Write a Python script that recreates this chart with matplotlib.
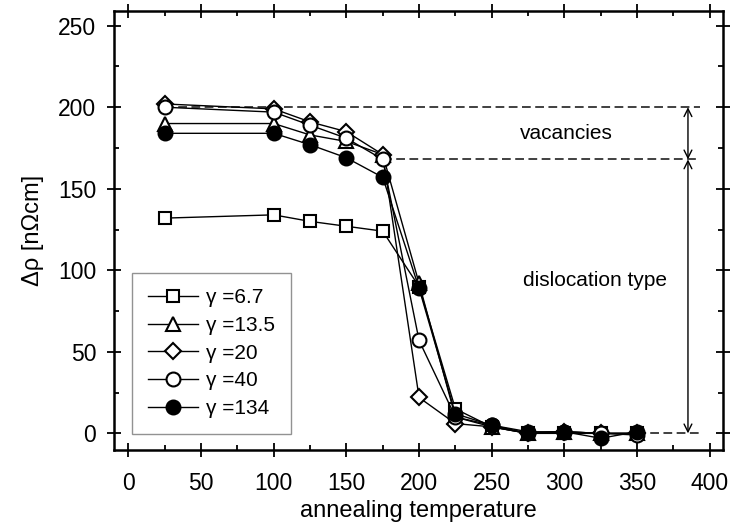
import matplotlib.pyplot as plt
from matplotlib.ticker import MultipleLocator

plt.rcParams["font.family"] = ["Liberation Sans", "DejaVu Sans"]

temps = [25, 100, 125, 150, 175, 200, 225, 250, 275, 300, 325, 350]

rho_6_7 = [132, 134, 130, 127, 124, 90, 15, 4, 0, 0, 0, 0]
rho_13_5 = [190, 190, 183, 179, 171, 92, 10, 4, 0, 1, 0, 0]
rho_20 = [202, 199, 191, 185, 171, 22, 6, 4, 0, 1, 0, 0]
rho_40 = [200, 197, 189, 181, 168, 57, 10, 5, 1, 1, 0, -1]
rho_134 = [184, 184, 177, 169, 157, 89, 12, 5, 0, 1, -3, 1]

labels = ["\u03b3 =6.7", "\u03b3 =13.5", "\u03b3 =20", "\u03b3 =40", "\u03b3 =134"]
markers = ["s", "^", "D", "o", "o"]
faces = ["white", "white", "white", "white", "black"]
sizes = [9, 10, 8, 10, 10]

# reference levels for the two recovery stages
level_total = 200
level_disloc = 168
level_zero = 0

fig = plt.figure(figsize=(7.32, 5.27), dpi=100)
ax = fig.add_axes([0.1557, 0.1461, 0.8316, 0.833])

# dashed guide lines
dash = dict(ls=(0, (4.5, 2.3)), color="#404040", lw=1.4, zorder=1)
ax.plot([25, 393], [level_total, level_total], **dash)
ax.plot([175, 393], [level_disloc, level_disloc], **dash)
ax.plot([350, 393], [level_zero, level_zero], **dash)

series = [rho_6_7, rho_13_5, rho_20, rho_40, rho_134]
for ys, lab, m, fc, ms in zip(series, labels, markers, faces, sizes):
    ax.plot(temps, ys, color="black", lw=1.0, marker=m, markersize=ms,
            markerfacecolor=fc, markeredgecolor="black", markeredgewidth=1.5,
            label=lab, zorder=3)

# double arrows for the two contributions
arrow = dict(arrowstyle="<->", color="black", lw=1.0, shrinkA=0, shrinkB=0,
             mutation_scale=14)
ax.annotate("", xy=(385, level_total), xytext=(385, level_disloc), arrowprops=arrow)
ax.annotate("", xy=(385, level_disloc), xytext=(385, level_zero), arrowprops=arrow)

ax.text(301, 184, "vacancies", ha="center", va="center", fontsize=15)
ax.text(321, 93.5, "dislocation type", ha="center", va="center", fontsize=15)

ax.set_xlim(-9.9, 408.9)
ax.set_ylim(-10.2, 259)
ax.xaxis.set_major_locator(MultipleLocator(50))
ax.xaxis.set_minor_locator(MultipleLocator(25))
ax.yaxis.set_major_locator(MultipleLocator(50))
ax.yaxis.set_minor_locator(MultipleLocator(25))
ax.tick_params(which="major", direction="inout", length=9.4, width=1.3,
               top=True, right=True, labelsize=16.5)
ax.tick_params(which="minor", direction="in", length=3.5, width=1.3,
               top=True, right=True)
ax.tick_params(axis="x", which="major", pad=11)
ax.tick_params(axis="y", which="major", pad=8)
for s in ax.spines.values():
    s.set_linewidth(1.8)

ax.set_xlabel("annealing temperature", fontsize=17, labelpad=4)
ax.set_ylabel("\u0394\u03c1 [n\u03a9cm]", fontsize=17, labelpad=10)

leg = ax.legend(loc="lower left", bbox_to_anchor=(0.03, 0.037), fontsize=15,
                frameon=True, fancybox=False, edgecolor="#777777",
                handlelength=2.4, handletextpad=0.4, labelspacing=0.42,
                borderpad=0.75, borderaxespad=0.0)
leg.get_frame().set_linewidth(1.0)

fig.savefig("out.png", dpi=100)
